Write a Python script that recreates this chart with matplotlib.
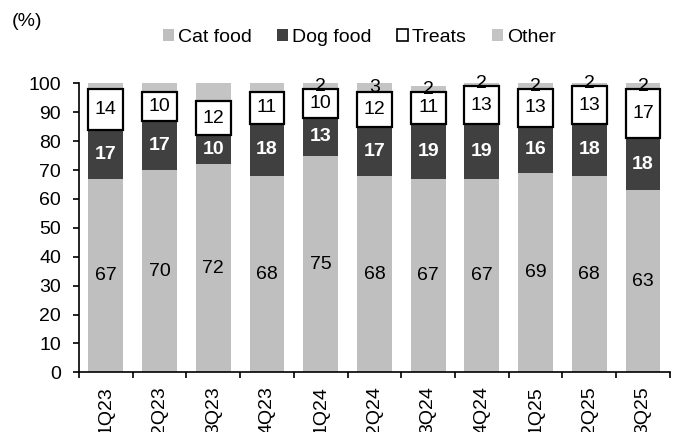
import matplotlib
matplotlib.use("Agg")
import matplotlib.pyplot as plt
import numpy as np
from matplotlib.patches import Patch

plt.rcParams["font.family"] = ["Liberation Sans", "DejaVu Sans"]

quarters = ["1Q23", "2Q23", "3Q23", "4Q23", "1Q24", "2Q24",
            "3Q24", "4Q24", "1Q25", "2Q25", "3Q25"]
cat_food = [67, 70, 72, 68, 75, 68, 67, 67, 69, 68, 63]
dog_food = [17, 17, 10, 18, 13, 17, 19, 19, 16, 18, 18]
treats = [14, 10, 12, 11, 10, 12, 11, 13, 13, 13, 17]
other = [2, 3, 6, 3, 2, 3, 2, 2, 2, 2, 2]
# "Other" share is only labelled from 1Q24 on
other_labelled = [False, False, False, False, True, True,
                  True, True, True, True, True]

CAT_C = "#BFBFBF"
DOG_C = "#404040"
OTHER_C = "#C4C4C4"

fig = plt.figure(figsize=(6.78, 4.32), dpi=100)
ax = fig.add_axes([0.1165, 0.138, 0.8715, 0.669])

x = np.arange(len(quarters))
w = 0.65
cat = np.array(cat_food)
dog = np.array(dog_food)
tr = np.array(treats)
oth = np.array(other)

ax.bar(x, cat, w, color=CAT_C, zorder=2)
ax.bar(x, dog, w, bottom=cat, color=DOG_C, zorder=2)
ax.bar(x, oth, w, bottom=cat + dog + tr, color=OTHER_C, zorder=2)
ax.bar(x, tr, w, bottom=cat + dog, color="white", edgecolor="black",
       linewidth=1.6, zorder=3)

fs = 14
for i in range(len(x)):
    ax.text(x[i], cat[i] / 2, str(cat[i]), ha="center", va="center",
            fontsize=fs, color="black", zorder=4)
    ax.text(x[i], cat[i] + dog[i] / 2, str(dog[i]), ha="center",
            va="center", fontsize=fs, color="white", fontweight="bold",
            zorder=4)
    ax.text(x[i], cat[i] + dog[i] + tr[i] / 2, str(tr[i]), ha="center",
            va="center", fontsize=fs, color="black", zorder=4)
    if other_labelled[i]:
        ax.text(x[i], cat[i] + dog[i] + tr[i] + oth[i] / 2, str(oth[i]),
                ha="center", va="center", fontsize=fs, color="black",
                zorder=4)

ax.set_xlim(-0.5, len(x) - 0.5)
ax.set_ylim(0, 100)
ax.set_yticks(range(0, 101, 10))
# category separators as major ticks, quarter names on minor ticks
ax.set_xticks(np.arange(-0.5, len(x), 1.0), minor=False)
ax.set_xticklabels([])
ax.set_xticks(x, minor=True)
ax.set_xticklabels(quarters, minor=True, rotation=90, fontsize=fs)
ax.tick_params(axis="x", which="minor", length=0, pad=10)
ax.tick_params(axis="x", which="major", length=4.3, width=1.2, direction="out")
ax.tick_params(axis="y", length=4.3, width=1.2, labelsize=fs, pad=8.5)

for side in ["top", "right"]:
    ax.spines[side].set_visible(False)
for side in ["left", "bottom"]:
    ax.spines[side].set_linewidth(1.2)

fig.text(0.018, 0.951, "(%)", fontsize=fs, ha="left", va="center")

handles = [
    Patch(facecolor=CAT_C, edgecolor="none", label="Cat food"),
    Patch(facecolor=DOG_C, edgecolor="none", label="Dog food"),
    Patch(facecolor="white", edgecolor="black", linewidth=1.2, label="Treats"),
    Patch(facecolor=OTHER_C, edgecolor="none", label="Other"),
]
fig.legend(handles=handles, loc="center", bbox_to_anchor=(0.53, 0.913),
           ncol=4, frameon=False, fontsize=fs, handlelength=0.58,
           handleheight=0.58, handletextpad=0.2, columnspacing=1.3)

fig.savefig("out.png", dpi=100)
